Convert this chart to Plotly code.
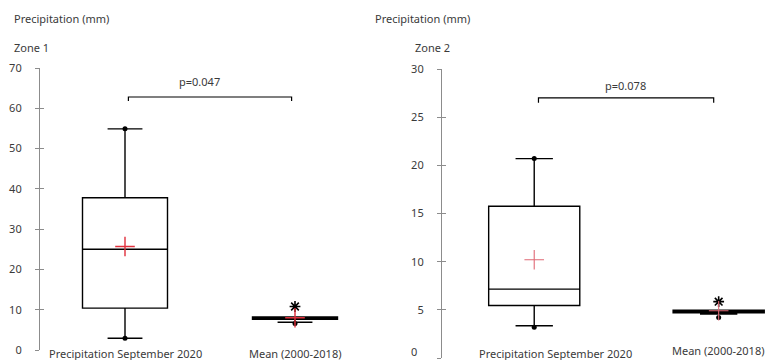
import plotly.graph_objects as go

# ---------------- data ----------------
categories = ["Precipitation September 2020", "Mean (2000-2018)"]
positions = [0, 1]

z1_q1 = [10.4, 7.6]
z1_median = [25.0, 7.9]
z1_q3 = [37.8, 8.2]
z1_lower = [2.9, 6.9]
z1_upper = [54.9, 8.2]
z1_mean = [25.7, 8.0]
z1_extreme_x = [0, 0, 1]
z1_extreme_y = [54.9, 2.9, 6.6]
z1_outlier_x = [1]
z1_outlier_y = [10.8]
z1_p = "p=0.047"

z2_q1 = [5.45, 4.7]
z2_median = [7.15, 4.85]
z2_q3 = [15.75, 4.95]
z2_lower = [3.35, 4.55]
z2_upper = [20.7, 4.95]
z2_mean = [10.2, 4.9]
z2_extreme_x = [0, 0, 1]
z2_extreme_y = [20.7, 3.2, 4.2]
z2_outlier_x = [1]
z2_outlier_y = [5.85]
z2_p = "p=0.078"

z1_ticks = [0, 10, 20, 30, 40, 50, 60, 70]
z2_ticks = [0, 5, 10, 15, 20, 25, 30]

y_title = "Precipitation (mm)"
zones = ["Zone 1", "Zone 2"]

# ---------------- figure ----------------
W, H = 767, 360
FONT = "Noto Sans"
FS = 11
TXT = "#3a3a3a"
AX = "#8c8c8c"

fig = go.Figure()

def add_panel(xa, ya, q1, med, q3, lo, up, mean, ex_x, ex_y, out_x, out_y, width,
              mean_color, mean_w):
    fig.add_trace(go.Box(x=positions, q1=q1, median=med, q3=q3,
                         lowerfence=lo, upperfence=up, width=width,
                         whiskerwidth=0.41, boxpoints=False,
                         fillcolor="white", line=dict(color="black", width=1.4),
                         xaxis=xa, yaxis=ya, showlegend=False, hoverinfo="skip"))
    fig.add_trace(go.Scatter(x=ex_x, y=ex_y, mode="markers", xaxis=xa, yaxis=ya,
                             marker=dict(symbol="circle", size=5, color="black"),
                             showlegend=False, hoverinfo="skip"))
    fig.add_trace(go.Scatter(x=out_x, y=out_y, mode="markers", xaxis=xa, yaxis=ya,
                             marker=dict(symbol="asterisk", size=9,
                                         line=dict(color="black", width=1.6)),
                             showlegend=False, hoverinfo="skip"))
    fig.add_trace(go.Scatter(x=positions, y=mean, mode="markers", xaxis=xa, yaxis=ya,
                             marker=dict(symbol="cross-thin", size=14,
                                         line=dict(color=mean_color, width=mean_w)),
                             showlegend=False, hoverinfo="skip"))

add_panel("x", "y", z1_q1, z1_median, z1_q3, z1_lower, z1_upper, z1_mean,
          z1_extreme_x, z1_extreme_y, z1_outlier_x, z1_outlier_y, 0.5, "#e0303c", 1.4)
add_panel("x2", "y2", z2_q1, z2_median, z2_q3, z2_lower, z2_upper, z2_mean,
          z2_extreme_x, z2_extreme_y, z2_outlier_x, z2_outlier_y, 0.494, "#e06a76", 1.1)

# domains (pixel -> paper)
def px(v):
    return v / W
def py(v):
    return 1 - v / H

ydom1 = [py(350), py(68)]
ydom2 = [py(358), py(69)]
xdom1 = [px(40), px(380)]
xdom2 = [px(442), 1.0]

yax_common = dict(showgrid=False, zeroline=False, showline=True, linecolor=AX,
                  linewidth=1.2, ticks="outside", ticklen=4, tickcolor=AX,
                  tickfont=dict(family=FONT, size=FS, color=TXT),
                  ticklabelstandoff=11, automargin=False, ticklabeloverflow="allow")

# right panel: the bottom "0" label sits slightly raised so it stays visible
z2_ticktext = ["" if v == 0 else str(v) for v in z2_ticks]

fig.update_layout(
    width=W, height=H,
    margin=dict(l=0, r=0, t=0, b=0),
    paper_bgcolor="white", plot_bgcolor="white",
    font=dict(family=FONT, size=FS, color=TXT),
    xaxis=dict(domain=xdom1, range=[-0.5, 1.5], visible=False, anchor="y", automargin=False),
    xaxis2=dict(domain=xdom2, range=[-0.5, 1.262], visible=False, anchor="y2", automargin=False),
    yaxis=dict(domain=ydom1, range=[0, 70], tickvals=z1_ticks, anchor="x", **yax_common),
    yaxis2=dict(domain=ydom2, range=[0, 30], tickvals=z2_ticks, ticktext=z2_ticktext,
                anchor="x2", **yax_common),
    yaxis3=dict(overlaying="y", anchor="x", range=[0, 70], tickvals=z1_ticks, side="left",
                showgrid=False, zeroline=False, showline=False, ticks="inside",
                ticklen=4, tickcolor=AX, showticklabels=False, automargin=False),
    yaxis4=dict(overlaying="y2", anchor="x2", range=[0, 30], tickvals=z2_ticks, side="left",
                showgrid=False, zeroline=False, showline=False, ticks="inside",
                ticklen=4, tickcolor=AX, showticklabels=False, automargin=False),
)
# dummy traces to make overlay axes render
fig.add_trace(go.Scatter(x=[None], y=[None], xaxis="x", yaxis="y3", showlegend=False))
fig.add_trace(go.Scatter(x=[None], y=[None], xaxis="x2", yaxis="y4", showlegend=False))

ann = []
# titles
ann.append(dict(text=y_title, xref="paper", yref="paper", x=px(12), y=py(18),
                xanchor="left", yanchor="middle", showarrow=False))
ann.append(dict(text=y_title, xref="paper", yref="paper", x=px(373), y=py(18),
                xanchor="left", yanchor="middle", showarrow=False))
ann.append(dict(text=zones[0], xref="paper", yref="paper", x=px(12), y=py(48),
                xanchor="left", yanchor="middle", showarrow=False))
ann.append(dict(text=zones[1], xref="paper", yref="paper", x=px(413), y=py(48),
                xanchor="left", yanchor="middle", showarrow=False))
# raised "0" label for right axis
ann.append(dict(text=str(z2_ticks[0]), xref="paper", yref="y2", x=px(418), y=z2_ticks[0],
                yshift=7, borderpad=0, xanchor="right", yanchor="middle", showarrow=False,
                font=dict(family=FONT, size=FS, color=TXT)))
# category labels
for i, c in enumerate(categories):
    ann.append(dict(text=c, xref="x", yref="paper", x=positions[i], y=py(353),
                    xanchor="center", yanchor="middle", showarrow=False))
ann.append(dict(text=categories[0], xref="x2", yref="paper", x=positions[0], y=py(353),
                xshift=21, xanchor="center", yanchor="middle", showarrow=False))
ann.append(dict(text=categories[1], xref="x2", yref="paper", x=positions[1], y=py(350),
                xanchor="center", yanchor="middle", showarrow=False))
# p values
ann.append(dict(text=z1_p, xref="x", yref="y", x=0.44, y=66.6,
                xanchor="center", yanchor="middle", showarrow=False))
ann.append(dict(text=z2_p, xref="x2", yref="y2", x=0.494, y=28.3,
                xanchor="center", yanchor="middle", showarrow=False))
fig.update_layout(annotations=ann)

# significance brackets
fig.add_shape(type="path", xref="x", yref="y",
              path="M 0.02 61.8 L 0.02 62.8 L 0.98 62.8 L 0.98 61.8",
              line=dict(color="black", width=1.2))
fig.add_shape(type="path", xref="x2", yref="y2",
              path="M 0.023 26.5 L 0.023 27.0 L 0.973 27.0 L 0.973 26.5",
              line=dict(color="black", width=1.2))

fig.write_html("out.html", config={"displayModeBar": False},
               post_script="document.body.style.margin='0';document.body.style.overflow='hidden';")
